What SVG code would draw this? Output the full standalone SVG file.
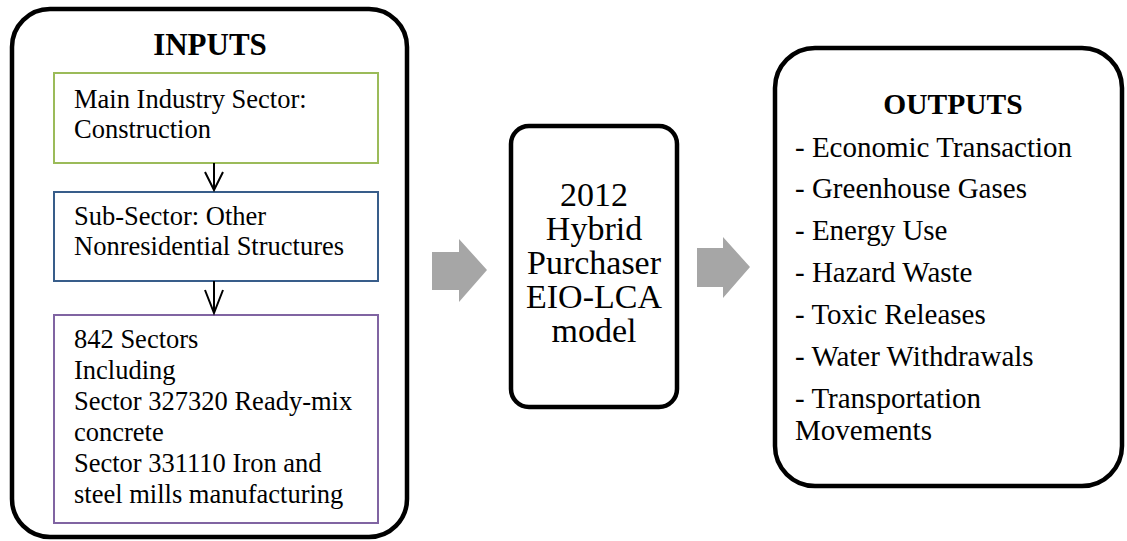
<svg xmlns="http://www.w3.org/2000/svg" width="1127" height="541" viewBox="0 0 1127 541">
<defs>
<style>
.t{font-family:"Liberation Serif","Times New Roman",serif;fill:#000}
.b{font-weight:bold}
.outer{fill:#fff;stroke:#000;stroke-width:4.5}
.ln{stroke:#000;stroke-width:2;fill:none}
.gray{fill:#a6a6a6}
.m{font-size:34px;text-anchor:middle}
</style>
</defs>
<rect width="1127" height="541" fill="#fff"/>
<g id="inputs">
<rect class="outer" x="12" y="9" width="395" height="528" rx="38"/>
<text class="t b" x="210" y="55" font-size="31" text-anchor="middle">INPUTS</text>
</g>
<g id="main-sector">
<rect x="54" y="73" width="324" height="90" fill="#fff" stroke="#9bbb59" stroke-width="2"/>
<text class="t" x="74" y="108" font-size="26.5">Main Industry Sector:</text>
<text class="t" x="74" y="138" font-size="26.5">Construction</text>
</g>
<g id="sub-sector">
<rect x="54" y="192" width="324" height="89" fill="#fff" stroke="#385d8a" stroke-width="2"/>
<text class="t" x="74" y="225" font-size="26.5">Sub-Sector: Other</text>
<text class="t" x="74" y="255" font-size="26.5">Nonresidential Structures</text>
</g>
<g id="sectors">
<rect x="54" y="315" width="324" height="208" fill="#fff" stroke="#8064a2" stroke-width="2"/>
<text class="t" x="74" y="348" font-size="26.5">842 Sectors</text>
<text class="t" x="74" y="379" font-size="26.5">Including</text>
<text class="t" x="74" y="410" font-size="26.5">Sector 327320 Ready-mix</text>
<text class="t" x="74" y="441" font-size="26.5">concrete</text>
<text class="t" x="74" y="472" font-size="26.5">Sector 331110 Iron and</text>
<text class="t" x="74" y="503" font-size="26.5">steel mills manufacturing</text>
</g>
<g id="model">
<rect class="outer" x="511" y="126" width="166" height="281" rx="18"/>
<text class="t m" x="594" y="206">2012</text>
<text class="t m" x="594" y="240">Hybrid</text>
<text class="t m" x="594" y="274">Purchaser</text>
<text class="t m" x="594" y="308">EIO-LCA</text>
<text class="t m" x="594" y="342">model</text>
</g>
<g id="outputs">
<rect class="outer" x="775" y="48" width="347" height="438" rx="40"/>
<text class="t b" x="953" y="114" font-size="29.5" text-anchor="middle">OUTPUTS</text>
<text class="t" x="795" y="157" font-size="29">- Economic Transaction</text>
<text class="t" x="795" y="198" font-size="29">- Greenhouse Gases</text>
<text class="t" x="795" y="240" font-size="29">- Energy Use</text>
<text class="t" x="795" y="282" font-size="29">- Hazard Waste</text>
<text class="t" x="795" y="324" font-size="29">- Toxic Releases</text>
<text class="t" x="795" y="366" font-size="29">- Water Withdrawals</text>
<text class="t" x="795" y="408" font-size="29">- Transportation</text>
<text class="t" x="795" y="440" font-size="29">Movements</text>
</g>
<g id="connectors">
<path class="ln" d="M214 163V190M205 172L214 190L223 172"/>
<path class="ln" d="M214 281V313M205 290L214 313L223 290"/>
<path class="gray" d="M432 252H459V239L487 270L459 302V290H432Z"/>
<path class="gray" d="M697 248H723V237L750 267L723 298V287H697Z"/>
</g>
</svg>
